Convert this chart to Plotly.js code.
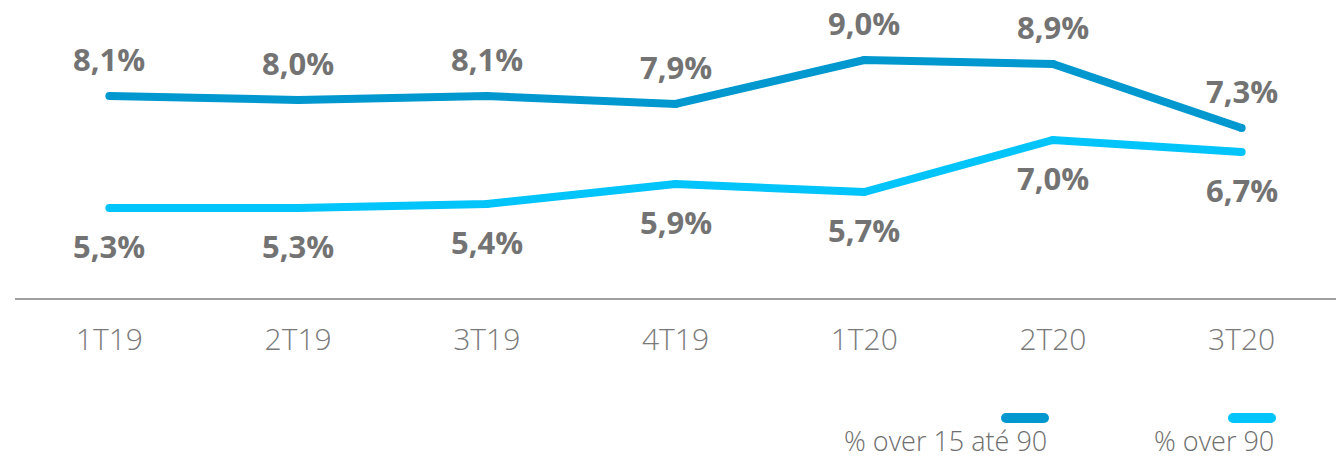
<!DOCTYPE html>
<html><head><meta charset="utf-8">
<script src="https://cdn.plot.ly/plotly-3.0.1.min.js"></script>
<style>html,body{margin:0;padding:0;background:#fff}#chart{width:1339px;height:459px}</style>
</head><body><div id="chart"></div>
<script>
const categories = ["1T19","2T19","3T19","4T19","1T20","2T20","3T20"];
const seriesNames = ["% over 15 até 90","% over 90"];
const over15to90 = [8.1, 8.0, 8.1, 7.9, 9.0, 8.9, 7.3];
const over90 = [5.3, 5.3, 5.4, 5.9, 5.7, 7.0, 6.7];
const colors = ["#0098CE", "#00C4FA"];

const fmt = v => v.toFixed(1).replace(".", ",") + "%";
const labelFont = {family: "Open Sans", size: 31, color: "#737373", weight: 700};

const traces = [over15to90, over90].map((vals, i) => ({
  x: categories, y: vals, type: "scatter", mode: "lines+markers",
  name: seriesNames[i],
  line: {color: colors[i], width: 8},
  marker: {color: colors[i], size: 8},
  hoverinfo: "skip", showlegend: false
}));

const annotations = [];
[over15to90, over90].forEach((vals, i) => {
  vals.forEach((v, j) => {
    annotations.push({x: categories[j], y: v, xref: "x", yref: "y", text: fmt(v),
      showarrow: false, font: labelFont, yshift: i === 0 ? 37 : -38});
  });
});

// custom legend: symbol above right end of text
const legendFont = {family: "Open Sans", size: 27, color: "#6e6e6e", weight: 300};
const legendRight = [1049, 1276];
const px = x => (x - 15) / 1321, py = y => -(y - 298) / 298;
const shapes = [];
seriesNames.forEach((n, i) => {
  annotations.push({xref: "paper", yref: "paper", x: px(legendRight[i]), y: py(440),
    xanchor: "right", yanchor: "middle", text: n, showarrow: false, font: legendFont});
  const x0 = legendRight[i] - 43, x1 = legendRight[i] - 5, yy = py(418);
  shapes.push({type: "line", xref: "paper", yref: "paper", x0: px(x0), x1: px(x1), y0: yy, y1: yy,
    line: {color: colors[i], width: 10}});
  [x0, x1].forEach(cx => shapes.push({type: "circle", xref: "paper", yref: "paper",
    xsizemode: "pixel", ysizemode: "pixel", xanchor: px(cx), yanchor: yy,
    x0: -5, x1: 5, y0: -5, y1: 5, fillcolor: colors[i], line: {width: 0}}));
});

const layout = {
  width: 1339, height: 459,
  margin: {l: 15, r: 3, t: 0, b: 161},
  paper_bgcolor: "#fff", plot_bgcolor: "#fff",
  xaxis: {type: "category", range: [-0.5, 6.5], showgrid: false, zeroline: false,
    showline: true, linecolor: "#a0a0a0", linewidth: 2, ticks: "",
    ticklabelstandoff: 14,
    tickfont: {family: "Open Sans", size: 30, color: "#7a7a7a", weight: 300}},
  yaxis: {range: [3.05, 10.5], visible: false, showgrid: false, zeroline: false},
  annotations: annotations, shapes: shapes, showlegend: false
};
Plotly.newPlot("chart", traces, layout, {staticPlot: true});
</script></body></html>
